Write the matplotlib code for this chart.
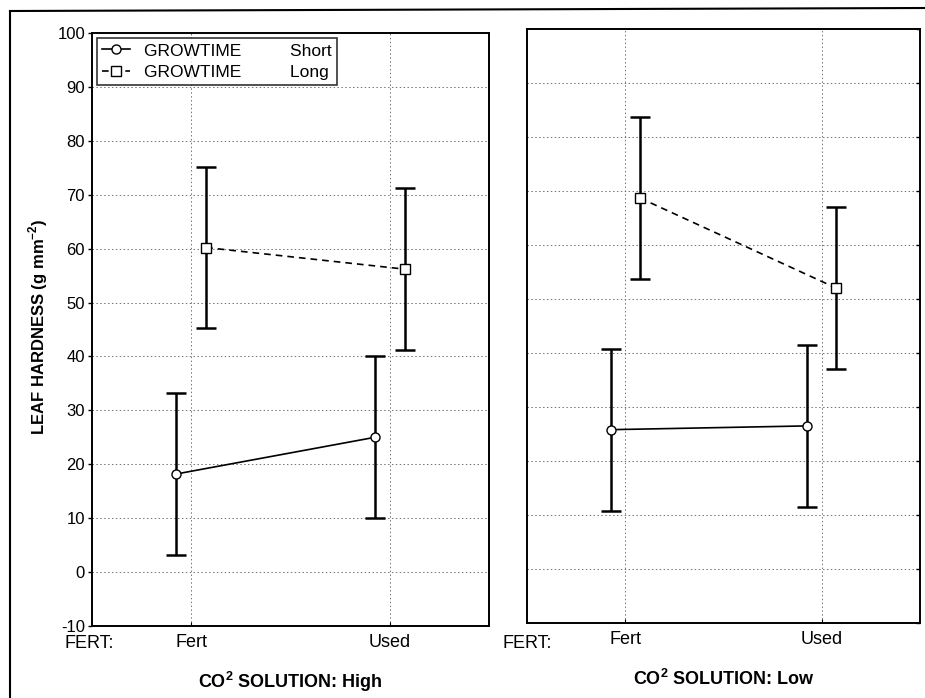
import matplotlib
matplotlib.use('Agg')
import matplotlib.pyplot as plt
from matplotlib.lines import Line2D

plt.rcParams['font.family'] = ['Liberation Sans', 'DejaVu Sans']
plt.rcParams['mathtext.fontset'] = 'custom'
plt.rcParams['mathtext.rm'] = 'Liberation Sans'
plt.rcParams['mathtext.bf'] = 'Liberation Sans:bold'
plt.rcParams['axes.unicode_minus'] = False

# data
fert_levels = ['Fert', 'Used']
panel_titles = [r'CO$^{\mathbf{2}}$ SOLUTION: High', r'CO$^{\mathbf{2}}$ SOLUTION: Low']
short_high = [18.2, 25.0]
short_high_err = [15.0, 15.0]
long_high = [60.2, 56.2]
long_high_err = [15.0, 15.0]
short_low = [25.8, 26.5]
short_low_err = [15.0, 15.0]
long_low = [68.7, 52.0]
long_low_err = [15.0, 15.0]
yticks = list(range(-10, 101, 10))

fig = plt.figure(figsize=(9.25, 6.98), dpi=100)
axL = fig.add_axes([92/925, 1-626/698, 397/925, 593/698])
axR = fig.add_axes([527/925, 1-623/698, 393/925, 594/698])

off = 0.075
xs = [0, 1]
panels = [(axL, short_high, short_high_err, long_high, long_high_err),
          (axR, short_low, short_low_err, long_low, long_low_err)]
for i, (ax, s, se, l, le) in enumerate(panels):
    xs_s = [x - off for x in xs]
    xs_l = [x + off for x in xs]
    ax.errorbar(xs_s, s, yerr=se, fmt='none', ecolor='black', elinewidth=1.8,
                capsize=7.5, capthick=1.8, zorder=3)
    ax.errorbar(xs_l, l, yerr=le, fmt='none', ecolor='black', elinewidth=1.8,
                capsize=7.5, capthick=1.8, zorder=3)
    ax.plot(xs_s, s, '-', color='black', lw=1.2, marker='o', ms=6.5,
            mfc='white', mec='black', mew=1.0, zorder=4, label='GROWTIME')
    ax.plot(xs_l, l, '--', color='black', lw=1.2, dashes=(4, 3), marker='s', ms=6.5,
            mfc='white', mec='black', mew=1.0, zorder=4, label='GROWTIME')
    ax.set_xlim(-0.5, 1.5)
    ax.set_ylim(-10, 100)
    ax.set_yticks(yticks)
    ax.set_xticks(xs)
    ax.set_xticklabels(fert_levels, fontsize=13)
    ax.grid(True, color='0.45', linestyle=(0, (1.5, 2.5)), lw=0.7)
    ax.set_axisbelow(True)
    for sp in ax.spines.values():
        sp.set_linewidth(1.4)
    ax.tick_params(axis='x', length=3, direction='in', pad=6)
    ax.text(0.5, -0.095, panel_titles[i], transform=ax.transAxes, ha='center',
            va='center', fontsize=13, fontweight='bold')

axL.tick_params(axis='y', labelsize=12, length=3, direction='out', width=1, pad=2)
axR.tick_params(axis='y', left=False, right=True, labelleft=False,
                length=3, direction='in', width=1)

fig.text(38/925, 1-327/698, r'LEAF HARDNESS (g mm$^{\mathbf{-2}}$)', rotation=90,
         ha='center', va='center', fontsize=12, fontweight='bold')
fig.text(65/925, 1-643/698, 'FERT:', ha='left', va='center', fontsize=13)
fig.text(503/925, 1-643/698, 'FERT:', ha='left', va='center', fontsize=13)

leg_labels = ['GROWTIME          Short', 'GROWTIME          Long']
h, _ = axL.get_legend_handles_labels()
leg = axL.legend(h, leg_labels, loc='upper left', fontsize=12.5, frameon=True,
                 fancybox=False, edgecolor='black', borderaxespad=0.3,
                 handlelength=1.6, handletextpad=0.8, labelspacing=0.35,
                 borderpad=0.3)
leg.get_frame().set_linewidth(1.2)

# outer frame of the scanned figure
fig.add_artist(Line2D([10/925, 1], [1-11/698, 1-8/698], color='black', lw=1.5))
fig.add_artist(Line2D([10/925, 10/925], [1-11/698, 0], color='black', lw=1.5))

fig.savefig('out.png', dpi=100)
